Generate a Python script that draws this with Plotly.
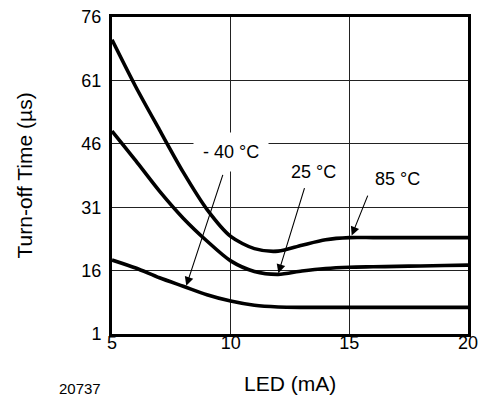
import plotly.graph_objects as go

# LED forward current (mA)
led_ma = [5, 6, 7, 8, 9, 10, 11, 12, 13, 14, 15, 16, 17, 18, 19, 20]

# Turn-off time (µs) per ambient temperature
toff_85c = [70.6, 59.5, 49.3, 39.3, 30.5, 24.1, 21.2, 20.6, 22.0, 23.3, 23.8, 23.8, 23.8, 23.8, 23.8, 23.8]
toff_25c = [49.0, 42.0, 34.8, 28.4, 23.0, 18.3, 15.8, 15.1, 15.9, 16.5, 16.8, 16.9, 17.0, 17.1, 17.2, 17.3]
toff_m40c = [18.5, 16.6, 14.3, 12.3, 10.3, 8.8, 7.8, 7.4, 7.3, 7.3, 7.3, 7.3, 7.3, 7.3, 7.3, 7.3]

x_ticks = [5, 10, 15, 20]
y_ticks = [1, 16, 31, 46, 61, 76]

# Curve labels: (text, label x, label y, arrow tail x, tail y, head x, head y, boxed)
labels = [
    ("- 40 °C", 10.0, 44.0, 9.69, 39.0, 8.13, 12.4, True),
    ("25 °C", 13.51, 39.4, 13.13, 35.85, 12.01, 15.4, False),
    ("85 °C", 17.05, 37.6, 15.8, 34.1, 15.1, 24.3, False),
]

FONT = "Liberation Sans, Arial, Helvetica, sans-serif"

fig = go.Figure()
for ys in (toff_85c, toff_25c, toff_m40c):
    fig.add_trace(go.Scatter(
        x=led_ma, y=ys, mode="lines",
        line=dict(color="black", width=3.6, shape="spline", smoothing=0.8),
        showlegend=False, hoverinfo="skip",
    ))

annotations = []
for text, lx, ly, tx, ty, hx, hy, boxed in labels:
    annotations.append(dict(
        x=hx, y=hy, ax=tx, ay=ty, xref="x", yref="y", axref="x", ayref="y",
        text="", showarrow=True, arrowhead=2, arrowsize=1.6, arrowwidth=1.1,
        arrowcolor="black", standoff=0, startstandoff=0,
    ))
    annotations.append(dict(
        x=lx, y=ly, xref="x", yref="y", text=text, showarrow=False,
        xanchor="center", yanchor="middle",
        font=dict(family=FONT, size=18, color="black"),
        bgcolor="white" if boxed else "rgba(0,0,0,0)", borderpad=9 if boxed else 0,
    ))

annotations += [
    dict(x=290, y=383, xref="paper", yref="paper", text="LED (mA)", showarrow=False,
         font=dict(family=FONT, size=21, color="black")),
    dict(x=24, y=175.5, xref="paper", yref="paper", text="Turn-off Time (µs)", textangle=-90,
         showarrow=False, font=dict(family=FONT, size=21, color="black")),
    dict(x=80, y=388, xref="paper", yref="paper", text="20737", showarrow=False,
         font=dict(family=FONT, size=15, color="black")),
]

# convert pixel placements of the outer texts to paper coordinates
L, R, T, B, W, H = 112, 10, 17, 65, 478, 399
pw, ph = W - L - R, H - T - B
for a in annotations:
    if a.get("xref") == "paper":
        a["x"] = (a["x"] - L) / pw
        a["y"] = (H - B - a["y"]) / ph
        a["xanchor"] = "center"
        a["yanchor"] = "middle"

fig.update_layout(
    width=W, height=H,
    margin=dict(l=L, r=R, t=T, b=B, pad=0, autoexpand=False),
    paper_bgcolor="white", plot_bgcolor="white",
    font=dict(family=FONT, size=18, color="black"),
    annotations=annotations,
    xaxis=dict(
        range=[5, 20], tickvals=x_ticks, ticktext=[str(v) for v in x_ticks],
        showgrid=True, gridcolor="#222", gridwidth=1.2,
        showline=True, linecolor="black", linewidth=3, mirror=True,
        ticks="", zeroline=False, ticklabelstandoff=-10, automargin=False,
        ticklabeloverflow="allow",
        tickfont=dict(family=FONT, size=18, color="black"),
    ),
    yaxis=dict(
        range=[1, 76], tickvals=y_ticks, ticktext=[str(v) for v in y_ticks],
        showgrid=True, gridcolor="#222", gridwidth=1.2,
        showline=True, linecolor="black", linewidth=3, mirror=True,
        ticks="", zeroline=False, ticklabelstandoff=4, automargin=False,
        ticklabeloverflow="allow",
        tickfont=dict(family=FONT, size=18, color="black"),
    ),
)

fig.write_html("out.html")
